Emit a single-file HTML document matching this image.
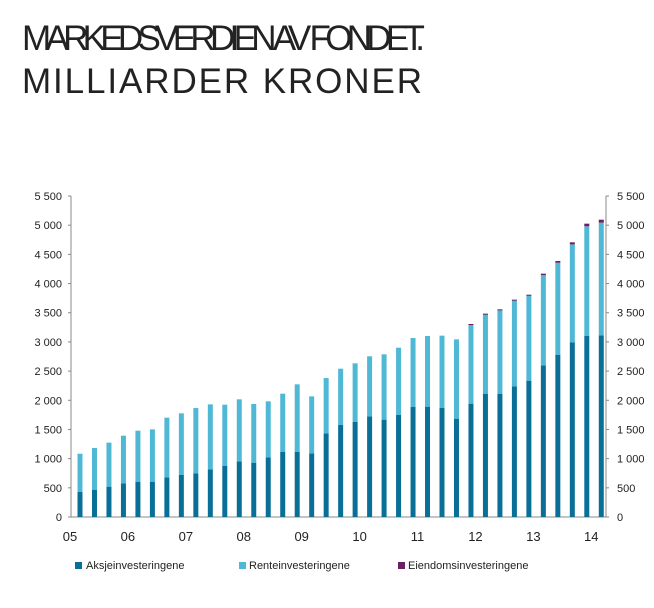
<!DOCTYPE html>
<html><head><meta charset="utf-8"><style>
html,body{margin:0;padding:0;background:#fff;}
svg{display:block;font-family:"Liberation Sans",sans-serif;}
</style></head><body>
<svg id="chart" width="654" height="608" viewBox="0 0 654 608" xmlns="http://www.w3.org/2000/svg">
<text x="22" y="50" font-size="35" fill="#222" textLength="403" lengthAdjust="spacing">MARKEDSVERDIEN AV FONDET.</text>
<text x="22" y="93" font-size="35" fill="#222" textLength="400" lengthAdjust="spacing">MILLIARDER KRONER</text>
<g id="axes"></g><g id="bars"></g>
<g font-size="11" fill="#222">
<rect x="75" y="562" width="7" height="7" fill="#0a6f96"/>
<text x="86" y="569">Aksjeinvesteringene</text>
<rect x="239" y="562" width="7" height="7" fill="#4fb8d5"/>
<text x="249" y="569">Renteinvesteringene</text>
<rect x="398" y="562" width="7" height="7" fill="#6b2060"/>
<text x="408" y="569">Eiendomsinvesteringene</text>
</g>
</svg>
<script>
const totals=[1085,1182,1274,1393,1479,1502,1702,1776,1867,1930,1925,2016,1936,1982,2113,2273,2067,2381,2541,2633,2753,2787,2901,3067,3101,3107,3044,3307,3484,3558,3724,3809,4169,4386,4706,5026,5094];
const aksje=[428,468,520,577,605,605,680,720,748,817,874,954,931,1022,1114,1119,1091,1433,1576,1633,1725,1668,1748,1885,1890,1873,1685,1942,2113,2113,2239,2336,2599,2781,2993,3101,3112];
const eiendom=[0,0,0,0,0,0,0,0,0,0,0,0,0,0,0,0,0,0,0,0,0,0,0,0,0,0,0,5,10,10,10,12,25,30,35,45,50];
const yTicks=[0,500,1000,1500,2000,2500,3000,3500,4000,4500,5000,5500];
const yTickLabels=["0","500","1 000","1 500","2 000","2 500","3 000","3 500","4 000","4 500","5 000","5 500"];
const yearLabels=["05","06","07","08","09","10","11","12","13","14"];
const NS="http://www.w3.org/2000/svg";
const x0=71,x1=606,yZero=517,yTop=196,yMax=5500,pitch=14.48,firstBar=80,bw=5;
const y=v=>yZero-(v/yMax)*(yZero-yTop);
const bx=i=>firstBar+i*pitch;
function mk(tag,attrs,parent){const e=document.createElementNS(NS,tag);for(const k in attrs)e.setAttribute(k,attrs[k]);parent.appendChild(e);return e;}
const axes=document.getElementById('axes'),bars=document.getElementById('bars');
let e;
e=mk('line',{x1:x0,y1:yTop,x2:x0,y2:yZero,stroke:'#888','stroke-width':1},axes);


e=mk('line',{x1:x1,y1:yTop,x2:x1,y2:yZero,stroke:'#888','stroke-width':1},axes);


e=mk('line',{x1:x0,y1:yZero,x2:x1,y2:yZero,stroke:'#888','stroke-width':1},axes);


yTicks.forEach((v,i)=>{
  const yy=y(v);
  let t=mk('line',{x1:x0-3,y1:yy,x2:x0,y2:yy,stroke:'#888'},axes);
  
  
  t=mk('line',{x1:x1,y1:yy,x2:x1+3,y2:yy,stroke:'#888'},axes);
  
  
  let l=mk('text',{x:x0-9,y:yy+4,'font-size':11,'text-anchor':'end',fill:'#222'},axes);
  l.textContent=yTickLabels[i];
  
  
  l=mk('text',{x:x1+11,y:yy+4,'font-size':11,'text-anchor':'start',fill:'#222'},axes);
  l.textContent=yTickLabels[i];
  
  
});
yearLabels.forEach((s,k)=>{
  const l=mk('text',{x:bx(4*k)-10,y:541,'font-size':13,'text-anchor':'middle',fill:'#222'},axes);
  l.textContent=s;
  
  
});
totals.forEach((tot,i)=>{
  const a=aksje[i],ei=eiendom[i],r=tot-a-ei;
  const xx=bx(i)-bw/2;
  let b=mk('rect',{x:xx,y:y(a),width:bw,height:yZero-y(a),fill:'#0a6f96'},bars);
  
  
  b=mk('rect',{x:xx,y:y(a+r),width:bw,height:y(a)-y(a+r),fill:'#4fb8d5'},bars);
  
  
  if(ei>0){
    b=mk('rect',{x:xx,y:y(tot),width:bw,height:Math.max(1,y(a+r)-y(tot)),fill:'#6b2060'},bars);
    
    
  }
});
</script>
</body></html>
